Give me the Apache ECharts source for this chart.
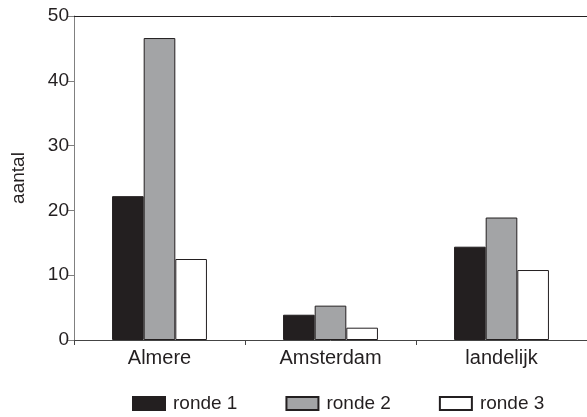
<!DOCTYPE html>
<html>
<head>
<meta charset="utf-8">
<script src="https://cdn.jsdelivr.net/npm/echarts@6/dist/echarts.min.js"></script>
<style>html,body{margin:0;padding:0;background:#fff}#c{width:587px;height:417px}</style>
</head>
<body>
<div id="c"></div>
<script>
var categories = ['Almere', 'Amsterdam', 'landelijk'];
var seriesNames = ['ronde 1', 'ronde 2', 'ronde 3'];
var ronde1 = [22.2, 3.9, 14.4];
var ronde2 = [46.6, 5.3, 18.9];
var ronde3 = [12.5, 1.9, 10.8];
var yTicks = [0, 10, 20, 30, 40, 50];
var yName = 'aantal';

var FONT = 'Liberation Sans, Arial, sans-serif';
var TXT = '#231f20';
var colors = ['#231f20', '#a3a4a6', '#ffffff'];
var values = [ronde1, ronde2, ronde3];

var chart = echarts.init(document.getElementById('c'), null, {renderer: 'canvas'});
chart.setOption({
  animation: false,
  backgroundColor: '#fff',
  textStyle: {fontFamily: FONT, color: TXT},
  grid: {left: 74, top: 16, width: 515, height: 324, containLabel: false},
  legend: {
    data: seriesNames.map(function (n) { return {name: n, icon: 'rect'}; }),
    left: 127, top: 389,
    itemWidth: 32, itemHeight: 13, itemGap: 48,
    selectedMode: false,
    textStyle: {fontFamily: FONT, fontSize: 19, color: TXT, padding: [0, 0, 0, 3]}
  },
  xAxis: [{
    type: 'category',
    data: categories,
    axisLine: {lineStyle: {color: '#444', width: 1}},
    axisTick: {show: true, length: 5, lineStyle: {color: '#444'}},
    axisLabel: {fontFamily: FONT, fontSize: 20, color: TXT, margin: 8},
    splitLine: {show: false}
  }, {
    type: 'category',
    data: categories,
    position: 'top',
    axisLine: {show: true, lineStyle: {color: '#231f20', width: 1}},
    axisTick: {show: false},
    axisLabel: {show: false}
  }],
  yAxis: {
    type: 'value',
    min: yTicks[0], max: yTicks[yTicks.length - 1], interval: 10,
    name: yName,
    nameLocation: 'middle',
    nameGap: 46,
    nameTextStyle: {fontFamily: FONT, fontSize: 19, color: TXT},
    axisLine: {show: true, lineStyle: {color: '#808080', width: 1}},
    axisTick: {show: true, length: 7, lineStyle: {color: '#808080'}},
    axisLabel: {fontFamily: FONT, fontSize: 19, color: TXT, margin: 5},
    splitLine: {show: false}
  },
  series: seriesNames.map(function (n, i) {
    return {
      name: n,
      type: 'bar',
      data: values[i],
      barWidth: '18.5%',
      barGap: '0%',
      itemStyle: {color: colors[i], borderColor: '#231f20', borderWidth: 1}
    };
  })
});
</script>
</body>
</html>
